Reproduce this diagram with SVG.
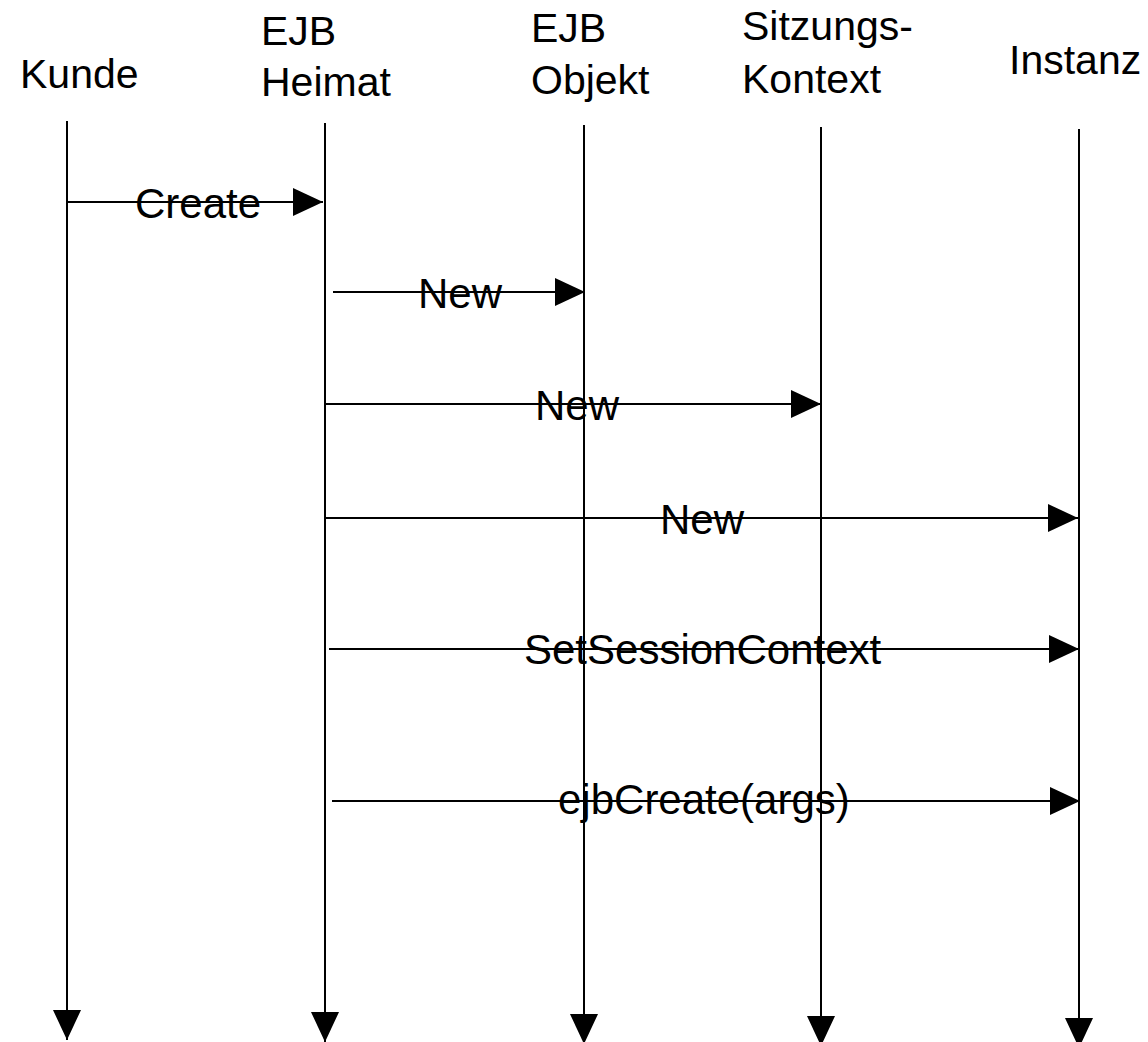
<svg xmlns="http://www.w3.org/2000/svg" width="1148" height="1042" viewBox="0 0 1148 1042">
<style>
.hdr{font-family:"Liberation Sans",Arial,sans-serif;font-size:41px;fill:#000}
.lbl{font-family:"Liberation Sans",Arial,sans-serif;font-size:42px;fill:#000}
.life{stroke:#000;stroke-width:2;fill:none;marker-end:url(#ah)}
.msg{stroke:#000;stroke-width:2;fill:none;marker-end:url(#ah)}
</style>
<defs>
<marker id="ah" markerUnits="userSpaceOnUse" markerWidth="30" markerHeight="28" refX="30" refY="14" orient="auto" overflow="visible">
<path d="M0,0 L30,14 L0,28 Z" fill="#000"/>
</marker>
</defs>
<rect width="1148" height="1042" fill="#fff"/>
<g id="kunde">
<text class="hdr" x="20" y="88">Kunde</text>
<line class="life" x1="67" y1="121" x2="67" y2="1040"/>
</g>
<g id="ejb-heimat">
<text class="hdr" x="261" y="45">EJB</text>
<text class="hdr" x="261" y="96">Heimat</text>
<line class="life" x1="325" y1="123" x2="325" y2="1042"/>
</g>
<g id="ejb-objekt">
<text class="hdr" x="531" y="42">EJB</text>
<text class="hdr" x="531" y="94">Objekt</text>
<line class="life" x1="584" y1="125" x2="584" y2="1044"/>
</g>
<g id="sitzungs-kontext">
<text class="hdr" x="742" y="40">Sitzungs-</text>
<text class="hdr" x="742" y="93">Kontext</text>
<line class="life" x1="821" y1="127" x2="821" y2="1046"/>
</g>
<g id="instanz">
<text class="hdr" x="1009" y="74">Instanz</text>
<line class="life" x1="1079" y1="129" x2="1079" y2="1048"/>
</g>
<g id="connectors">
<line class="msg" x1="67" y1="202" x2="323" y2="202"/>
<text class="lbl" x="135" y="218">Create</text>
<line class="msg" x1="333" y1="292" x2="585" y2="292"/>
<text class="lbl" x="418" y="308">New</text>
<line class="msg" x1="325" y1="404" x2="821" y2="404"/>
<text class="lbl" x="535" y="420">New</text>
<line class="msg" x1="325" y1="518" x2="1078" y2="518"/>
<text class="lbl" x="660" y="534">New</text>
<line class="msg" x1="329" y1="649" x2="1079" y2="649"/>
<text class="lbl" x="524" y="664">SetSessionContext</text>
<line class="msg" x1="332" y1="801" x2="1080" y2="801"/>
<text class="lbl" x="558" y="814">ejbCreate(args)</text>
</g>
</svg>
